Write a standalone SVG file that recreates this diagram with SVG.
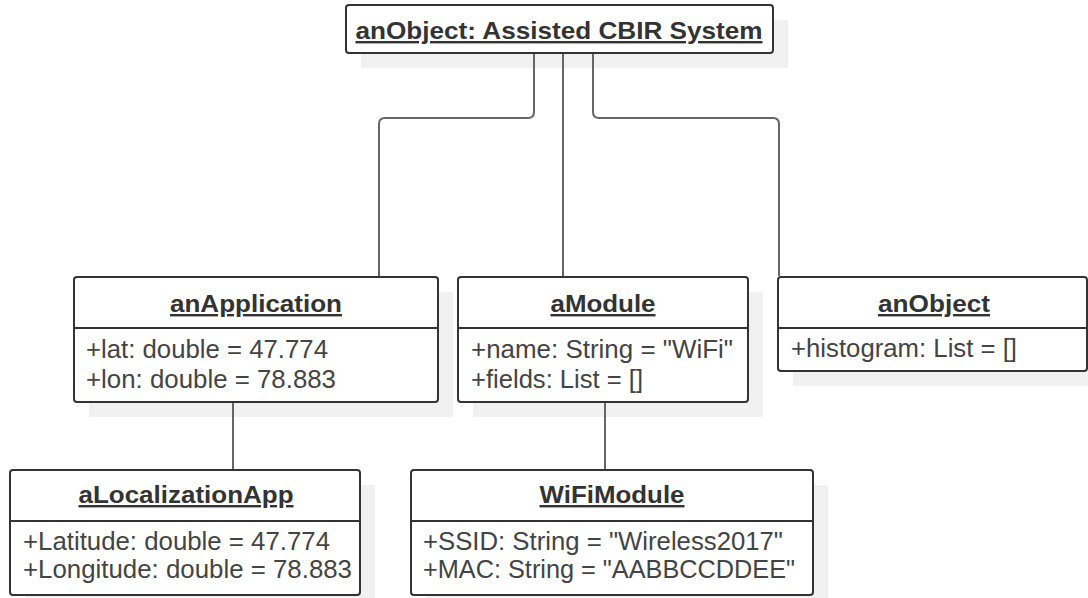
<svg xmlns="http://www.w3.org/2000/svg" width="1088" height="598" viewBox="0 0 1088 598">
<style>
.shadow{fill:#f1f1f1;stroke:none}
.box{fill:#ffffff;stroke:#333333;stroke-width:2}
.sep{stroke:#333333;stroke-width:2}
.hdr{font-family:"Liberation Sans",Arial,sans-serif;font-size:24px;font-weight:bold;fill:#333333;text-anchor:middle;text-decoration:underline}
.attr{font-family:"Liberation Sans",Arial,sans-serif;font-size:25px;fill:#444444}
.conn{fill:none;stroke:#666666;stroke-width:2}
</style>
<rect width="1088" height="598" fill="#ffffff"/>
<g id="node-system">
<rect class="shadow" x="361" y="20" width="427" height="48"/>
<rect class="box" x="346" y="5" width="427" height="48" rx="3"/>
<text class="hdr" x="559" y="39" textLength="407" lengthAdjust="spacingAndGlyphs">anObject: Assisted CBIR System</text>
</g>
<g id="node-anApplication">
<rect class="shadow" x="89" y="292" width="364" height="125"/>
<rect class="box" x="74" y="277" width="364" height="125" rx="3"/>
<line class="sep" x1="74" y1="328" x2="438" y2="328"/>
<text class="hdr" x="256" y="312" textLength="172" lengthAdjust="spacingAndGlyphs">anApplication</text>
<text class="attr" x="86" y="358" textLength="242" lengthAdjust="spacingAndGlyphs">+lat: double = 47.774</text>
<text class="attr" x="86" y="388" textLength="250" lengthAdjust="spacingAndGlyphs">+lon: double = 78.883</text>
</g>
<g id="node-aModule">
<rect class="shadow" x="473" y="292" width="290" height="125"/>
<rect class="box" x="458" y="277" width="290" height="125" rx="3"/>
<line class="sep" x1="458" y1="328" x2="748" y2="328"/>
<text class="hdr" x="603" y="312" textLength="105" lengthAdjust="spacingAndGlyphs">aModule</text>
<text class="attr" x="471" y="358" textLength="262" lengthAdjust="spacingAndGlyphs">+name: String = "WiFi"</text>
<text class="attr" x="471" y="388" textLength="172" lengthAdjust="spacingAndGlyphs">+fields: List = []</text>
</g>
<g id="node-anObject">
<rect class="shadow" x="793" y="292" width="309" height="94"/>
<rect class="box" x="778" y="277" width="309" height="94" rx="3"/>
<line class="sep" x1="778" y1="328" x2="1087" y2="328"/>
<text class="hdr" x="934" y="312" textLength="112" lengthAdjust="spacingAndGlyphs">anObject</text>
<text class="attr" x="791" y="357" textLength="226" lengthAdjust="spacingAndGlyphs">+histogram: List = []</text>
</g>
<g id="node-aLocalizationApp">
<rect class="shadow" x="25" y="485" width="350" height="125"/>
<rect class="box" x="10" y="470" width="350" height="125" rx="3"/>
<line class="sep" x1="10" y1="521" x2="360" y2="521"/>
<text class="hdr" x="186" y="503" textLength="215" lengthAdjust="spacingAndGlyphs">aLocalizationApp</text>
<text class="attr" x="23" y="550" textLength="307" lengthAdjust="spacingAndGlyphs">+Latitude: double = 47.774</text>
<text class="attr" x="23" y="578" textLength="329" lengthAdjust="spacingAndGlyphs">+Longitude: double = 78.883</text>
</g>
<g id="node-WiFiModule">
<rect class="shadow" x="426" y="485" width="402" height="125"/>
<rect class="box" x="411" y="470" width="402" height="125" rx="3"/>
<line class="sep" x1="411" y1="521" x2="813" y2="521"/>
<text class="hdr" x="612" y="503" textLength="145" lengthAdjust="spacingAndGlyphs">WiFiModule</text>
<text class="attr" x="423" y="550" textLength="360" lengthAdjust="spacingAndGlyphs">+SSID: String = "Wireless2017"</text>
<text class="attr" x="423" y="578" textLength="372" lengthAdjust="spacingAndGlyphs">+MAC: String = "AABBCCDDEE"</text>
</g>
<g id="connectors">
<path class="conn" d="M534 54 V112 Q534 118 528 118 H385 Q379 118 379 124 V276"/>
<path class="conn" d="M563 54 V276"/>
<path class="conn" d="M593 54 V112 Q593 118 599 118 H773 Q779 118 779 124 V276"/>
<path class="conn" d="M233 403 V469"/>
<path class="conn" d="M605 403 V469"/>
</g>
</svg>
